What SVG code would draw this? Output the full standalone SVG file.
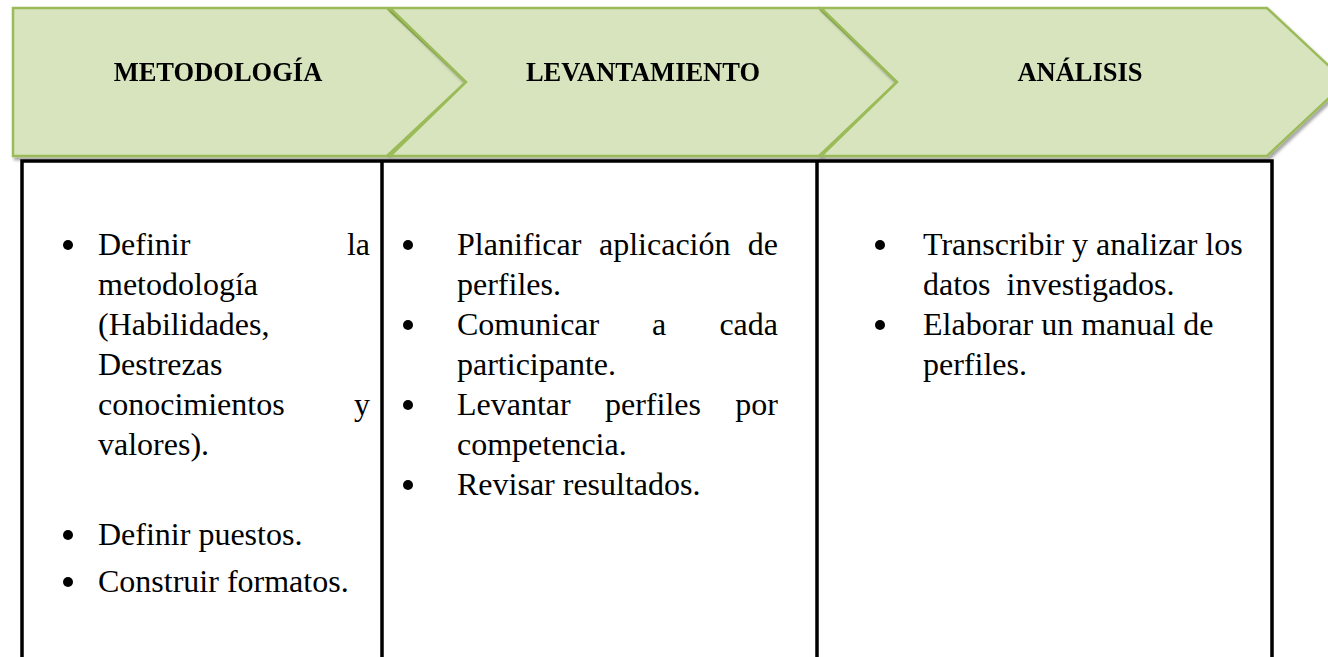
<svg xmlns="http://www.w3.org/2000/svg" width="1328" height="657" viewBox="0 0 1328 657">
<defs>
<style>
.chev{fill:#D7E4BD;stroke:#9BBB59;stroke-width:2.5;stroke-linejoin:miter}
.hd{font-family:"Liberation Serif","Times New Roman",serif;font-weight:bold;font-size:26.5px;fill:#000;text-anchor:middle}
.tx{font-family:"Liberation Serif","Times New Roman",serif;font-size:32px;fill:#000}
.end{text-anchor:end}
.rule{stroke:#000;stroke-width:3.5;fill:none}
.bul{fill:#000}
</style>
<filter id="sh" x="-5%" y="-10%" width="115%" height="130%">
<feDropShadow dx="2" dy="3" stdDeviation="1.5" flood-color="#000" flood-opacity="0.35"/>
</filter>
</defs>
<rect width="1328" height="657" fill="#fff"/>
<g id="connectors"></g>
<g id="header-metodologia" filter="url(#sh)">
<polygon class="chev" points="13,8 387,8 466,82 387,156 13,156"/>
<text class="hd" x="218" y="81">METODOLOGÍA</text>
</g>
<g id="header-levantamiento" filter="url(#sh)">
<polygon class="chev" points="390,8 819,8 897,82 819,156 390,156 466,82"/>
<text class="hd" x="643" y="81">LEVANTAMIENTO</text>
</g>
<g id="header-analisis" filter="url(#sh)">
<polygon class="chev" points="821,8 1267,8 1346,82 1267,156 821,156 897,82"/>
<text class="hd" x="1080" y="81">ANÁLISIS</text>
</g>
<g id="table">
<path class="rule" d="M20.25,161 H1273.75 M22,161 V657 M382,161 V657 M817,161 V657 M1272,161 V657"/>
</g>
<g id="col-metodologia">
<circle class="bul" cx="68" cy="245" r="5"/>
<text class="tx" x="98" y="255">Definir</text>
<text class="tx end" x="370" y="255">la</text>
<text class="tx" x="98" y="295">metodología</text>
<text class="tx" x="98" y="335">(Habilidades,</text>
<text class="tx" x="98" y="375">Destrezas</text>
<text class="tx" x="98" y="415">conocimientos</text>
<text class="tx end" x="370" y="415">y</text>
<text class="tx" x="98" y="455">valores).</text>
<circle class="bul" cx="68" cy="535" r="5"/>
<text class="tx" x="98" y="545">Definir puestos.</text>
<circle class="bul" cx="68" cy="582" r="5"/>
<text class="tx" x="98" y="592">Construir formatos.</text>
</g>
<g id="col-levantamiento">
<circle class="bul" cx="408" cy="245" r="5"/>
<text class="tx" x="457" y="255">Planificar</text>
<text class="tx" x="599" y="255">aplicación</text>
<text class="tx end" x="778" y="255">de</text>
<text class="tx" x="457" y="295">perfiles.</text>
<circle class="bul" cx="408" cy="325" r="5"/>
<text class="tx" x="457" y="335">Comunicar</text>
<text class="tx" x="652" y="335">a</text>
<text class="tx end" x="778" y="335">cada</text>
<text class="tx" x="457" y="375">participante.</text>
<circle class="bul" cx="408" cy="405" r="5"/>
<text class="tx" x="457" y="415">Levantar</text>
<text class="tx" x="605" y="415">perfiles</text>
<text class="tx end" x="778" y="415">por</text>
<text class="tx" x="457" y="455">competencia.</text>
<circle class="bul" cx="408" cy="485" r="5"/>
<text class="tx" x="457" y="495">Revisar resultados.</text>
</g>
<g id="col-analisis">
<circle class="bul" cx="880" cy="245" r="5"/>
<text class="tx" x="923" y="255">Transcribir y analizar los</text>
<text class="tx" x="923" y="295" xml:space="preserve">datos  investigados.</text>
<circle class="bul" cx="880" cy="325" r="5"/>
<text class="tx" x="923" y="335">Elaborar un manual de</text>
<text class="tx" x="923" y="375">perfiles.</text>
</g>
</svg>
